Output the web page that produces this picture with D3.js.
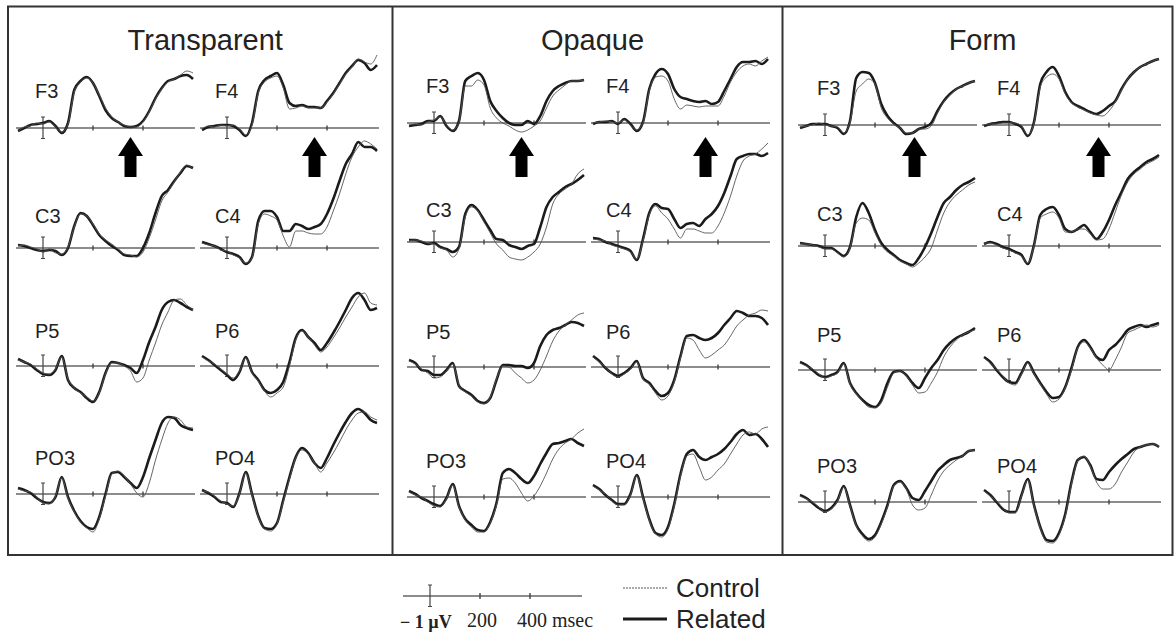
<!DOCTYPE html>
<html>
<head>
<meta charset="utf-8">
<script src="https://cdn.jsdelivr.net/npm/d3@7"></script>
<style>
  body { margin: 0; background: #fff; }
  svg { display: block; }
</style>
</head>
<body>
<svg id="chart" width="1175" height="634"></svg>
<script>
// time points (ms) used for every waveform
var times = [-100, -75, -50, -25, 0, 25, 50, 75, 100, 125, 150, 175, 200, 225, 250,
             275, 300, 325, 350, 375, 400, 425, 450, 475, 500, 525, 550, 575, 600];
var conditions = ["Transparent", "Opaque", "Form"];
var electrodes = ["F3", "F4", "C3", "C4", "P5", "P6", "PO3", "PO4"];
var tickTimes = [200, 400];
var arrowTimes = [350, 350, 358];   // arrows under F3 / F4 in each panel

// amplitudes, one row per electrode (order of electrodes)
var transparentRelated = [
  [-0.3, 0.0, 0.3, 0.4, 0.5, 0.7, 0.2, -0.5, 0.5, 3.8, 4.7, 5.1, 4.5, 3.2, 1.8, 1.0, 0.6, 0.2, 0.1, 0.2, 0.7, 1.7, 3.0, 4.0, 4.7, 4.9, 5.2, 5.3, 4.9],
  [-0.2, 0.1, 0.2, 0.3, 0.3, 0.2, -0.2, -0.8, 0.5, 3.7, 4.8, 5.2, 5.5, 4.3, 2.5, 2.2, 2.3, 2.1, 2.1, 2.0, 2.7, 3.5, 4.5, 5.5, 6.2, 6.8, 6.5, 5.8, 6.3],
  [0.3, 0.2, 0.0, -0.2, -0.3, -0.2, -0.3, -0.7, 0.0, 2.2, 3.5, 3.2, 2.3, 1.3, 0.7, 0.2, -0.2, -0.7, -0.8, -0.8, 0.0, 1.5, 3.5, 5.2, 5.8, 6.7, 7.5, 8.2, 8.0],
  [0.6, 0.4, 0.2, -0.1, -0.4, -0.6, -0.9, -1.6, -0.9, 2.7, 3.7, 3.7, 3.1, 1.7, 1.7, 2.4, 2.2, 1.9, 2.1, 2.4, 3.4, 4.9, 6.7, 8.4, 9.4, 10.6, 10.1, 10.1, 9.7],
  [0.7, 0.4, 0.1, -0.4, -0.8, -0.9, -0.4, 1.0, -1.4, -2.2, -2.6, -3.2, -3.6, -2.6, -0.7, 0.4, 0.3, 0.1, -0.2, -0.7, 0.6, 2.4, 3.9, 5.6, 6.4, 6.6, 6.3, 5.9, 5.6],
  [1.0, 0.6, 0.1, -0.4, -0.9, -1.4, -0.6, 0.9, -0.6, -1.4, -2.4, -2.7, -2.4, -1.6, 0.4, 2.8, 3.6, 2.9, 2.3, 1.6, 2.3, 3.3, 4.4, 5.6, 6.8, 7.3, 6.6, 5.6, 5.8],
  [0.6, 0.4, 0.1, -0.4, -0.8, -0.9, -0.3, 1.7, -0.3, -1.7, -2.7, -3.3, -3.5, -2.3, 0.0, 2.1, 2.2, 1.7, 1.1, 0.6, 1.7, 3.6, 5.4, 7.1, 7.7, 7.6, 6.9, 6.6, 6.4],
  [0.4, 0.1, -0.3, -0.8, -0.9, -1.3, 0.1, 2.2, 0.0, -2.2, -3.4, -3.5, -2.9, -0.6, 1.7, 3.7, 4.6, 4.1, 3.1, 2.6, 3.6, 4.9, 6.1, 7.2, 8.1, 8.5, 8.1, 7.4, 7.1]
];
var transparentControl = [
  [-0.4, 0.1, 0.2, 0.5, 0.4, 0.6, 0.1, -0.4, 0.4, 3.6, 4.6, 5.0, 4.5, 3.3, 2.0, 1.1, 0.6, 0.3, 0.1, 0.1, 0.6, 1.6, 2.9, 3.9, 4.6, 4.9, 5.3, 5.7, 5.5],
  [-0.1, 0.2, 0.1, 0.3, 0.2, 0.3, -0.1, -0.7, 0.3, 3.5, 4.6, 5.0, 5.2, 4.0, 1.9, 2.0, 2.2, 2.0, 2.0, 2.0, 2.6, 3.4, 4.4, 5.4, 6.1, 6.9, 6.6, 6.4, 7.3],
  [0.2, 0.3, 0.1, -0.1, -0.4, -0.1, -0.5, -0.6, 0.1, 2.1, 3.4, 3.2, 2.4, 1.4, 0.8, 0.4, -0.1, -0.6, -0.7, -0.9, -0.4, 1.0, 2.8, 4.7, 5.6, 6.6, 7.6, 8.3, 7.9],
  [0.5, 0.3, 0.2, -0.2, -0.3, -0.7, -1.0, -1.5, -1.0, 2.4, 3.4, 3.2, 2.8, 1.2, 0.1, 1.7, 1.7, 1.5, 1.4, 1.4, 2.1, 3.7, 5.4, 7.4, 9.1, 10.1, 10.7, 10.4, 9.9],
  [0.6, 0.4, 0.2, -0.3, -0.7, -0.8, -0.3, 0.9, -1.3, -2.2, -2.7, -3.1, -3.5, -2.7, -0.8, 0.3, 0.3, 0.0, -0.5, -1.6, -1.2, 0.6, 2.3, 4.1, 5.4, 6.6, 6.7, 6.1, 5.6],
  [0.9, 0.5, 0.2, -0.3, -0.8, -1.2, -0.5, 0.8, -0.7, -1.5, -2.5, -3.1, -2.7, -2.1, 0.0, 2.6, 3.5, 2.9, 2.1, 1.4, 1.9, 2.8, 3.8, 4.9, 5.9, 6.9, 7.3, 6.3, 6.1],
  [0.5, 0.3, 0.2, -0.3, -0.9, -1.0, -0.2, 1.6, -0.4, -1.8, -2.8, -3.4, -3.8, -2.5, -0.2, 2.0, 2.3, 1.8, 1.0, 0.1, -0.3, 1.1, 3.4, 5.4, 7.1, 7.7, 7.4, 6.7, 6.6],
  [0.3, 0.2, -0.2, -0.7, -1.0, -1.2, 0.0, 2.1, -0.1, -2.3, -3.5, -3.7, -3.0, -0.8, 1.5, 3.6, 4.4, 4.0, 3.1, 2.2, 3.1, 4.1, 5.2, 6.4, 7.4, 8.1, 8.2, 7.7, 7.4]
];
var opaqueRelated = [
  [-0.3, -0.2, -0.1, 0.2, 0.2, 0.7, -0.3, -0.8, 0.2, 4.2, 4.7, 5.0, 4.3, 2.2, 1.2, 0.5, 0.0, -0.2, -0.2, 0.2, -0.1, 0.7, 2.2, 3.2, 3.7, 4.0, 4.2, 4.2, 4.3],
  [-0.1, 0.1, 0.1, 0.2, -0.1, 0.4, -0.1, -0.8, 0.1, 3.4, 4.9, 5.4, 4.9, 3.4, 2.6, 2.4, 2.2, 2.1, 2.2, 1.9, 2.1, 3.2, 4.4, 5.6, 6.1, 6.1, 6.2, 5.9, 6.4],
  [0.2, 0.2, 0.0, -0.2, -0.1, -0.5, -0.7, -1.0, -0.5, 2.8, 3.7, 3.2, 2.2, 1.2, 0.3, 0.2, -0.3, -0.5, -0.7, -0.4, -0.2, 1.5, 3.5, 4.5, 5.0, 5.5, 5.8, 6.2, 6.7],
  [0.4, 0.3, 0.0, -0.2, -0.4, -0.6, -0.9, -1.8, 0.3, 2.9, 3.8, 3.4, 3.3, 2.3, 1.4, 1.8, 1.9, 1.6, 2.3, 2.8, 3.6, 4.9, 6.6, 8.3, 8.6, 8.8, 8.8, 8.6, 8.9],
  [0.7, 0.4, -0.3, -0.4, -0.8, -0.8, -0.3, 0.4, -1.9, -2.4, -2.8, -3.4, -3.6, -3.1, -1.3, 0.2, 0.2, 0.1, 0.1, -0.1, 0.4, 2.1, 3.2, 3.7, 3.9, 4.2, 4.5, 4.4, 4.1],
  [1.1, 0.6, -0.1, -0.6, -0.9, -0.6, -0.1, 0.6, -1.1, -1.6, -2.4, -2.9, -2.6, -1.3, 1.1, 3.1, 3.2, 2.9, 2.7, 2.9, 3.4, 4.2, 4.9, 5.6, 5.4, 5.1, 5.1, 4.9, 4.2],
  [0.6, 0.3, -0.1, -0.4, -0.7, -0.9, -0.1, 1.3, -0.9, -2.2, -2.8, -3.3, -3.4, -2.5, -0.6, 2.4, 2.8, 2.4, 1.8, 1.4, 2.1, 3.3, 4.4, 5.3, 5.4, 5.6, 5.8, 5.4, 5.1],
  [1.2, 0.8, 0.2, -0.3, -0.7, -0.7, 0.3, 2.2, 0.0, -2.2, -3.6, -3.8, -3.0, -0.7, 2.3, 4.3, 4.7, 4.0, 3.7, 4.0, 4.3, 4.8, 5.5, 6.3, 6.7, 6.2, 6.3, 5.8, 5.0]
];
var opaqueControl = [
  [-0.2, -0.1, -0.2, 0.1, 0.3, 0.6, -0.2, -0.7, 0.1, 3.7, 3.7, 4.3, 3.8, 1.5, 0.5, 0.0, -0.3, -0.7, -0.9, -0.7, -0.3, 0.2, 1.5, 2.7, 3.3, 3.8, 4.2, 4.2, 4.3],
  [0.0, 0.1, 0.2, 0.1, 0.0, 0.3, -0.2, -0.7, 0.0, 3.2, 4.6, 4.7, 4.2, 2.4, 1.4, 1.8, 1.7, 1.6, 1.7, 1.7, 1.7, 2.7, 4.1, 5.1, 5.7, 5.9, 5.7, 6.2, 6.6],
  [0.1, 0.2, 0.1, -0.1, -0.2, -0.6, -0.8, -1.5, -0.7, 2.5, 3.5, 3.1, 2.0, 0.9, -0.2, -0.8, -1.5, -1.7, -1.8, -1.5, -1.0, -0.2, 1.5, 3.8, 4.8, 5.3, 5.8, 6.8, 7.3],
  [0.3, 0.2, 0.1, -0.3, -0.5, -0.7, -1.0, -1.7, 0.1, 2.7, 3.6, 2.9, 2.3, 1.3, 0.4, 1.3, 1.3, 1.1, 0.9, 0.9, 1.6, 2.9, 4.6, 6.6, 8.1, 8.6, 8.8, 9.3, 9.9],
  [0.6, 0.3, -0.2, -0.6, -1.1, -1.0, -0.4, 0.3, -1.8, -2.5, -2.9, -3.5, -3.7, -3.0, -1.2, 0.1, 0.0, -0.6, -1.1, -1.6, -1.3, -0.3, 1.1, 2.6, 3.6, 4.2, 4.7, 5.2, 5.4],
  [1.0, 0.5, 0.0, -0.7, -1.0, -0.7, -0.2, 0.5, -1.2, -1.7, -2.6, -3.3, -2.9, -1.5, 0.9, 2.9, 2.7, 1.7, 0.9, 1.2, 1.7, 2.2, 3.1, 4.1, 4.7, 5.2, 5.4, 5.7, 5.6],
  [0.5, 0.2, 0.0, -0.5, -0.9, -1.0, -0.2, 1.2, -1.0, -2.3, -3.0, -3.5, -3.5, -2.6, -0.8, 1.8, 1.9, 1.4, 0.4, -0.4, 0.1, 1.1, 2.4, 3.8, 4.8, 5.4, 5.8, 6.4, 6.8],
  [1.1, 0.7, 0.3, -0.4, -0.8, -0.8, 0.2, 2.1, -0.1, -2.3, -3.7, -4.0, -3.2, -0.9, 2.1, 4.1, 4.3, 3.0, 1.7, 2.0, 2.7, 3.3, 4.3, 5.3, 6.2, 6.5, 6.3, 6.8, 7.0]
];
var formRelated = [
  [-0.3, -0.1, 0.1, 0.1, 0.1, -0.1, -0.3, -0.9, 0.4, 4.7, 5.3, 5.2, 4.2, 2.1, 0.9, 0.2, -0.3, -0.9, -0.8, -0.4, -0.2, 0.2, 1.4, 2.4, 3.1, 3.6, 3.9, 4.2, 4.4],
  [-0.1, 0.1, 0.2, 0.3, 0.3, 0.1, -0.2, -1.1, 0.3, 4.1, 5.3, 5.8, 4.9, 3.3, 2.3, 1.9, 1.6, 1.3, 1.1, 1.4, 1.9, 2.4, 3.6, 4.6, 5.3, 5.8, 6.1, 6.4, 6.6],
  [0.3, 0.2, 0.1, 0.0, -0.2, -0.2, -0.6, -1.0, -0.1, 2.9, 4.3, 3.3, 1.6, 0.3, -0.4, -0.9, -1.4, -1.7, -1.9, -1.2, -0.1, 1.3, 2.9, 4.3, 4.9, 5.6, 6.1, 6.4, 6.8],
  [0.2, 0.4, 0.2, -0.1, -0.3, -0.6, -0.9, -1.8, 0.1, 3.1, 3.7, 3.9, 3.1, 1.7, 1.4, 1.7, 2.1, 1.4, 0.7, 1.4, 2.6, 4.1, 5.4, 6.7, 7.4, 7.9, 8.4, 8.7, 9.1],
  [0.8, 0.5, 0.0, -0.5, -0.7, -0.5, -0.2, 0.7, -1.3, -2.3, -3.0, -3.5, -3.7, -3.0, -1.3, -0.2, -0.1, -0.5, -1.3, -1.8, -0.8, 0.2, 1.0, 2.0, 2.7, 3.2, 3.5, 3.8, 4.2],
  [1.3, 0.8, 0.0, -0.7, -1.2, -1.3, -0.3, 0.8, -0.3, -1.3, -2.2, -2.8, -2.7, -1.7, 0.2, 2.3, 3.0, 2.3, 1.3, 1.0, 2.0, 2.5, 3.2, 4.0, 4.3, 4.5, 4.3, 4.5, 4.7],
  [0.7, 0.4, -0.1, -0.6, -0.9, -0.6, 0.2, 1.6, -0.3, -2.3, -3.2, -3.7, -3.3, -2.0, -0.3, 1.7, 2.1, 1.4, 0.4, 0.2, 1.1, 2.1, 3.1, 3.7, 4.2, 4.4, 4.6, 5.1, 5.2],
  [1.2, 0.7, 0.0, -0.7, -1.0, -1.0, 0.7, 2.3, -0.3, -2.5, -3.8, -3.9, -3.1, -1.2, 2.0, 4.2, 4.5, 3.7, 2.3, 2.2, 3.0, 3.7, 4.3, 4.8, 5.3, 5.5, 5.7, 5.8, 5.5]
];
var formControl = [
  [-0.2, -0.1, 0.0, 0.2, 0.0, -0.1, -0.2, -0.8, 0.3, 3.4, 4.1, 4.6, 4.1, 1.7, 0.7, 0.1, -0.3, -0.8, -0.8, -0.4, -0.4, -0.1, 1.2, 2.3, 3.0, 3.6, 3.9, 4.2, 4.4],
  [0.0, 0.1, 0.1, 0.2, 0.2, 0.2, -0.1, -1.0, 0.2, 3.8, 4.8, 5.1, 4.6, 3.1, 2.2, 1.8, 1.5, 1.2, 1.0, 0.9, 1.4, 2.3, 3.5, 4.6, 5.3, 5.8, 6.1, 6.4, 6.6],
  [0.2, 0.2, 0.1, -0.1, -0.3, -0.3, -0.7, -1.1, -0.2, 2.3, 2.8, 2.6, 1.3, 0.1, -0.6, -1.0, -1.5, -1.8, -2.1, -1.7, -1.1, -0.2, 1.6, 3.3, 4.4, 5.1, 5.6, 6.1, 6.4],
  [0.3, 0.3, 0.1, -0.2, -0.4, -0.7, -1.0, -1.7, 0.0, 2.8, 3.2, 3.4, 2.8, 1.4, 1.4, 1.7, 1.7, 1.2, 0.6, 0.7, 1.7, 3.4, 5.1, 6.4, 7.2, 7.7, 8.2, 8.5, 8.9],
  [0.7, 0.4, 0.1, -0.4, -0.8, -0.6, -0.3, 0.6, -1.4, -2.4, -3.1, -3.7, -3.8, -3.3, -1.7, -0.3, -0.1, -0.6, -1.5, -2.3, -2.2, -1.3, -0.2, 1.3, 2.3, 3.0, 3.5, 3.8, 4.0],
  [1.2, 0.7, 0.1, -0.6, -1.3, -1.5, -0.4, 0.7, -0.4, -1.4, -2.4, -3.2, -2.9, -1.8, 0.0, 2.2, 2.8, 2.2, 1.2, 0.5, 0.0, 1.0, 2.3, 3.7, 4.0, 4.3, 4.5, 4.3, 4.5],
  [0.6, 0.3, 0.0, -0.5, -1.0, -0.7, 0.1, 1.5, -0.4, -2.4, -3.4, -3.9, -3.5, -2.2, -0.5, 1.6, 2.0, 1.3, -0.3, -0.8, -0.6, 0.7, 2.1, 3.1, 3.7, 4.2, 4.6, 5.1, 5.2],
  [1.1, 0.6, 0.1, -0.6, -1.1, -1.1, 0.6, 2.2, -0.4, -2.6, -4.0, -4.1, -3.3, -1.4, 1.8, 4.1, 4.6, 3.6, 2.0, 1.3, 1.3, 1.8, 3.0, 4.0, 5.0, 5.5, 5.7, 5.8, 5.5]
];

var relatedSets = [transparentRelated, opaqueRelated, formRelated];
var controlSets = [transparentControl, opaqueControl, formControl];

// layout
var panelLeft = [8, 392.5, 782.5, 1172.5];
var panelShift = [0, 391, 782];
var colOnset = [43, 227];
var rowZero = [[128, 248, 366, 494], [123, 242, 367, 497], [125, 246, 370, 502]];
var labelDy = [-30, -25, -28, -29];

var svg = d3.select("#chart");
svg.append("rect").attr("width", 1175).attr("height", 634).attr("fill", "#fff");

// x: 4 ms per pixel, y: 10 px per unit
var x = d3.scaleLinear().domain([-108, 608]).range([-27, 152]);
var y = d3.scaleLinear().domain([-1, 1]).range([10, -10]);

var line = d3.line()
    .x(function(d) { return x(d[0]); })
    .y(function(d) { return y(d[1]); })
    .curve(d3.curveMonotoneX);

function drawBaseline(g) {
  g.append("line")
      .attr("x1", x(-108)).attr("x2", x(608))
      .attr("y1", 0).attr("y2", 0)
      .attr("stroke", "#666").attr("stroke-width", 1.4);
  g.selectAll(".tick")
    .data(tickTimes)
    .enter()
    .append("line")
      .attr("class", "tick")
      .attr("x1", function(d) { return x(d); }).attr("x2", function(d) { return x(d); })
      .attr("y1", -2.5).attr("y2", 2.5)
      .attr("stroke", "#444").attr("stroke-width", 1.4);
  // calibration bar at stimulus onset
  g.append("line")
      .attr("x1", x(0)).attr("x2", x(0))
      .attr("y1", y(1.1)).attr("y2", y(-1.05))
      .attr("stroke", "#444").attr("stroke-width", 1.2);
  [1.1, -1.05].forEach(function(v) {
    g.append("line")
        .attr("x1", x(0) - 2).attr("x2", x(0) + 2)
        .attr("y1", y(v)).attr("y2", y(v))
        .attr("stroke", "#444").attr("stroke-width", 1);
  });
}

// outer frame and panel dividers
svg.append("rect")
    .attr("x", panelLeft[0]).attr("y", 6.5)
    .attr("width", panelLeft[3] - panelLeft[0]).attr("height", 548.5)
    .attr("fill", "none").attr("stroke", "#333").attr("stroke-width", 2);
[1, 2].forEach(function(i) {
  svg.append("line")
      .attr("x1", panelLeft[i]).attr("x2", panelLeft[i])
      .attr("y1", 6.5).attr("y2", 555)
      .attr("stroke", "#333").attr("stroke-width", 2);
});

conditions.forEach(function(cond, p) {
  svg.append("text")
      .attr("x", (panelLeft[p] + panelLeft[p + 1]) / 2 + 5)
      .attr("y", 50)
      .attr("text-anchor", "middle")
      .style("font-family", "'Liberation Sans', Arial, sans-serif")
      .style("font-size", "29px")
      .style("fill", "#222")
      .text(cond);

  electrodes.forEach(function(el, i) {
    var row = Math.floor(i / 2), col = i % 2;
    var g = svg.append("g")
        .attr("transform", "translate(" + (panelShift[p] + colOnset[col]) + "," + rowZero[p][row] + ")");

    drawBaseline(g);

    var rel = times.map(function(t, k) { return [t, relatedSets[p][i][k]]; });
    var con = times.map(function(t, k) { return [t, controlSets[p][i][k]]; });

    g.append("path")
        .attr("d", line(rel))
        .attr("fill", "none").attr("stroke", "#1b1b1b")
        .attr("stroke-width", 2.6).attr("stroke-linejoin", "round");
    g.append("path")
        .attr("d", line(con))
        .attr("fill", "none").attr("stroke", "#555")
        .attr("stroke-width", 0.9);

    g.append("text")
        .attr("x", col === 0 ? -8 : -12)
        .attr("y", labelDy[row])
        .style("font-family", "'Liberation Sans', Arial, sans-serif")
        .style("font-size", "20px")
        .style("fill", "#222")
        .text(el);
  });

  // arrows between F and C rows
  [0, 1].forEach(function(col) {
    var cx = panelShift[p] + colOnset[col] + x(arrowTimes[p]);
    var pts = [[cx, 137], [cx + 12.5, 156], [cx + 6, 156], [cx + 6, 177],
               [cx - 6, 177], [cx - 6, 156], [cx - 12.5, 156]];
    svg.append("path")
        .attr("d", d3.line()(pts) + "Z")
        .attr("fill", "#000");
  });
});

// scale legend
var leg = svg.append("g").attr("transform", "translate(430,596)");
drawBaseline(leg);
leg.selectAll(".tick").attr("y1", -3).attr("y2", 3);

var serif = "'Liberation Serif', 'Times New Roman', serif";
svg.append("text").attr("x", 400).attr("y", 628)
    .style("font-family", serif).style("font-size", "18px").style("font-weight", "bold").style("fill", "#222")
    .text("\u2212 1 \u00b5V");
svg.append("text").attr("x", 482).attr("y", 627).attr("text-anchor", "middle")
    .style("font-family", serif).style("font-size", "20px").style("fill", "#222")
    .text("200");
svg.append("text").attr("x", 517).attr("y", 627)
    .style("font-family", serif).style("font-size", "20px").style("fill", "#222")
    .text("400 msec");

// series legend
var seriesKeys = ["Control", "Related"];
var keyY = [588, 619];
svg.selectAll("keylines")
    .data(seriesKeys)
    .enter()
    .append("line")
    .attr("x1", 623).attr("x2", 667)
    .attr("y1", function(d, i) { return keyY[i]; })
    .attr("y2", function(d, i) { return keyY[i]; })
    .attr("stroke", function(d, i) { return i === 0 ? "#555" : "#1b1b1b"; })
    .attr("stroke-width", function(d, i) { return i === 0 ? 1 : 2.8; })
    .attr("stroke-dasharray", function(d, i) { return i === 0 ? "2,1" : null; });
svg.selectAll("keylabels")
    .data(seriesKeys)
    .enter()
    .append("text")
    .attr("x", 676)
    .attr("y", function(d, i) { return keyY[i] + 9; })
    .style("font-family", "'Liberation Sans', Arial, sans-serif")
    .style("font-size", "26px")
    .style("fill", "#222")
    .text(function(d) { return d; });
</script>
</body>
</html>
